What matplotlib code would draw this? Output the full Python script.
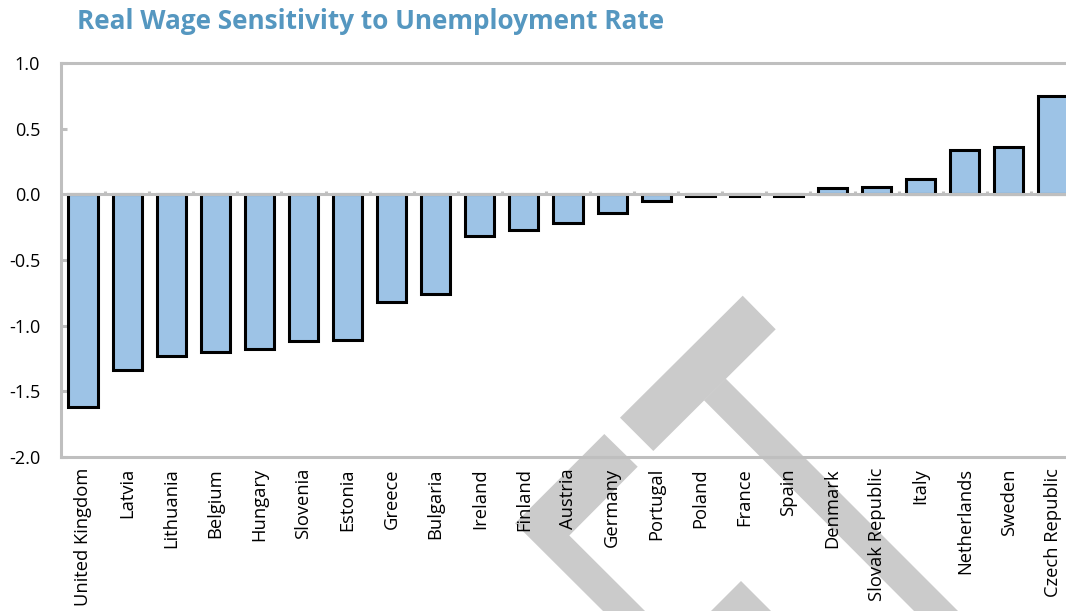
import matplotlib
matplotlib.use("Agg")
import matplotlib.pyplot as plt
from matplotlib.patches import Polygon
import numpy as np

# real wage response to a one point rise in unemployment, by country
countries = ["United Kingdom", "Latvia", "Lithuania", "Belgium", "Hungary",
             "Slovenia", "Estonia", "Greece", "Bulgaria", "Ireland", "Finland",
             "Austria", "Germany", "Portugal", "Poland", "France", "Spain",
             "Denmark", "Slovak Republic", "Italy", "Netherlands", "Sweden",
             "Czech Republic"]
sensitivity = [-1.62, -1.34, -1.23, -1.20, -1.18, -1.12, -1.11, -0.82, -0.76,
               -0.32, -0.27, -0.22, -0.145, -0.05, -0.01, -0.01, -0.01,
               0.045, 0.055, 0.12, 0.34, 0.36, 0.745]
yticks = [-2.0, -1.5, -1.0, -0.5, 0.0, 0.5, 1.0]

# watermark outlines, in pixels from the top left corner
mark_bar = [(620, 417.7), (742.7, 295.7), (775.7, 329.3), (653.3, 451)]
mark_stem = [(704, 400.3), (725.7, 378.6), (960, 613), (916, 613)]
mark_chevron = [(604.3, 434), (637.7, 466.7), (569.3, 535.5), (647, 613),
                (605, 613), (515, 523.3)]
mark_peak = [(741, 581), (773, 613), (709, 613)]

W, H = 1066, 611
grey = "#bfbfbf"
plt.rcParams['font.family'] = ['Open Sans', 'DejaVu Sans']

fig = plt.figure(figsize=(W / 100, H / 100), dpi=100)
ax = fig.add_axes([61 / W, 1 - 457 / H, (1075 - 61) / W, (457 - 63) / H])
ax.patch.set_alpha(0)

x = np.arange(len(countries))
ax.bar(x, sensitivity, width=0.66, color="#9dc3e6", edgecolor="black",
       linewidth=2.2, zorder=2)

# category axis runs along zero, with short marks between bars
ax.axhline(0, color=grey, lw=2.2, zorder=3)
ax.vlines(x[1:] - 0.5, 0, 0.028, color=grey, lw=2.2, zorder=3)

ax.set_xlim(-0.5, len(countries) - 0.5)
ax.set_ylim(-2.0, 1.0)
ax.set_yticks(yticks)
ax.set_yticklabels([f"{v:.1f}" for v in yticks], fontsize=13)
ax.set_xticks(x)
ax.set_xticklabels(countries, rotation=90, fontsize=13.2, va="top", ha="center")
ax.tick_params(axis="x", length=0, pad=8)
ax.tick_params(axis="y", direction="in", length=4, width=2.2, color=grey, pad=15)

for side in ["left", "top", "bottom"]:
    ax.spines[side].set_color(grey)
    ax.spines[side].set_linewidth(2.2)
ax.spines["right"].set_visible(False)

fig.text(77 / W, 1 - 29 / H, "Real Wage Sensitivity to Unemployment Rate",
         fontsize=18.8, fontweight="bold", color="#5597c0", ha="left",
         va="baseline")

for shape in [mark_bar, mark_stem, mark_chevron, mark_peak]:
    pts = [(px / W, 1 - py / H) for px, py in shape]
    fig.patches.append(Polygon(pts, closed=True, transform=fig.transFigure,
                               facecolor="#cbcbcb", edgecolor="none",
                               zorder=-1))

fig.savefig("out.png", dpi=100, facecolor="white")
